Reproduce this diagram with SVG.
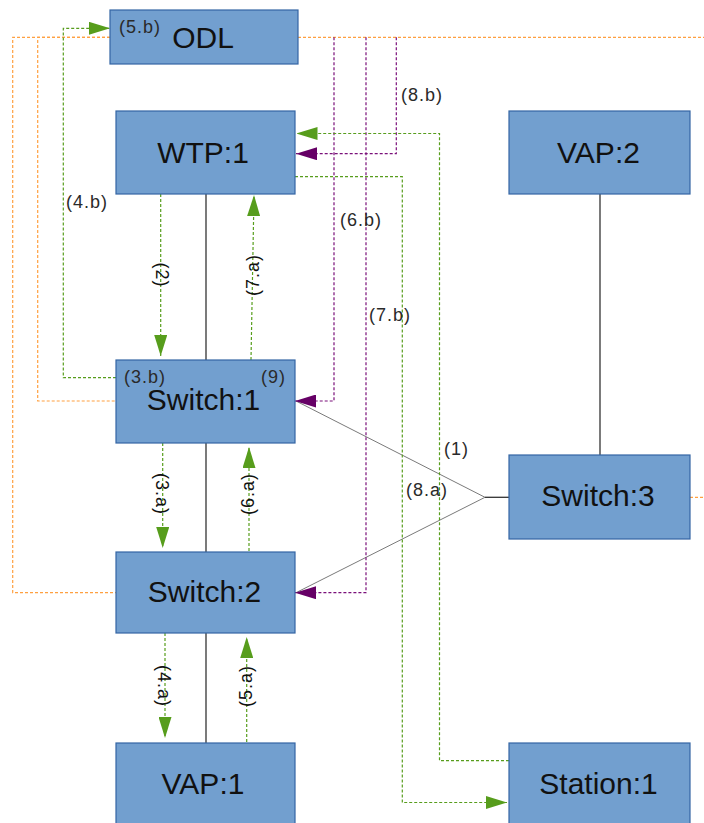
<svg xmlns="http://www.w3.org/2000/svg" width="704" height="823" viewBox="0 0 704 823">
  <defs>
    <style>
      .box { fill: #729fcf; stroke: #3465a4; stroke-width: 1.2; }
      .name { font-family: "Liberation Sans", Arial, sans-serif; font-size: 30px; fill: #111; text-anchor: middle; }
      .tag { font-family: "Liberation Sans", Arial, sans-serif; font-size: 18px; letter-spacing: 1px; fill: #2a2a2a; }
      .vtag { font-family: "Liberation Sans", Arial, sans-serif; font-size: 18px; letter-spacing: 1px; fill: #111; text-anchor: middle; }
      .link { fill: none; stroke: #333; stroke-width: 1.3; }
      .wire { fill: none; stroke: #7a7a7a; stroke-width: 1; }
      .green { fill: none; stroke: #579d1c; stroke-width: 1.2; stroke-dasharray: 3 2; }
      .purple { fill: none; stroke: #7a107a; stroke-width: 1.2; stroke-dasharray: 3 2; }
      .orange { fill: none; stroke: #ffa040; stroke-width: 1.2; stroke-dasharray: 3 2; }
    </style>
    <marker id="arrow-green" viewBox="0 0 21 13" refX="21" refY="6.5" markerWidth="21" markerHeight="13" markerUnits="userSpaceOnUse" orient="auto">
      <path d="M0,0 L21,6.5 L0,13 Z" fill="#579d1c"/>
    </marker>
    <marker id="arrow-purple" viewBox="0 0 21 13" refX="21" refY="6.5" markerWidth="21" markerHeight="13" markerUnits="userSpaceOnUse" orient="auto">
      <path d="M0,0 L21,6.5 L0,13 Z" fill="#660066"/>
    </marker>
  </defs>

  <rect width="704" height="823" fill="#ffffff"/>

  <g id="connectors">
    <!-- physical links -->
    <path class="link" d="M206 194 V360"/>
    <path class="link" d="M206 443 V552"/>
    <path class="link" d="M206 633 V743"/>
    <path class="link" d="M600 194 V455"/>
    <path class="link" d="M485 497.3 H509"/>
    <path class="wire" d="M296 401 L485 497.3 L296 592.7"/>

    <!-- control channel -->
    <path class="orange" d="M110 37.3 H37.7 V401 H116"/>
    <path class="orange" d="M110 37.3 H12.7 V592.7 H116"/>
    <path class="orange" d="M298 37.3 H704"/>
    <path class="orange" d="M690 497.3 H704"/>

    <!-- flow rule pushes -->
    <path class="purple" d="M396.3 37.3 V153.7 H296" marker-end="url(#arrow-purple)"/>
    <path class="purple" d="M334 37.3 V401 H295" marker-end="url(#arrow-purple)"/>
    <path class="purple" d="M366 37.3 V592.7 H295" marker-end="url(#arrow-purple)"/>

    <!-- packet path -->
    <path class="green" d="M116 377.7 H63.3 V28.3 H110" marker-end="url(#arrow-green)"/>
    <path class="green" d="M160.7 194 V356" marker-end="url(#arrow-green)"/>
    <path class="green" d="M251 360 L254 195" marker-end="url(#arrow-green)"/>
    <path class="green" d="M162.7 443 V548" marker-end="url(#arrow-green)"/>
    <path class="green" d="M249 551 V447" marker-end="url(#arrow-green)"/>
    <path class="green" d="M165 633 V738" marker-end="url(#arrow-green)"/>
    <path class="green" d="M246.7 742 V637" marker-end="url(#arrow-green)"/>
    <path class="green" d="M509 760.7 H439.5 V133.5 H296.5" marker-end="url(#arrow-green)"/>
    <path class="green" d="M295 176.7 H402.3 V802.5 H507" marker-end="url(#arrow-green)"/>

    <!-- step labels -->
    <text class="tag" x="401" y="101">(8.b)</text>
    <text class="tag" x="66" y="208">(4.b)</text>
    <text class="tag" x="340" y="226">(6.b)</text>
    <text class="tag" x="369" y="321">(7.b)</text>
    <text class="tag" x="444" y="455">(1)</text>
    <text class="tag" x="406" y="496">(8.a)</text>

    <text class="vtag" transform="translate(160.7 275) rotate(90)" y="5">(2)</text>
    <text class="vtag" transform="translate(254 275) rotate(-90)" y="5">(7.a)</text>
    <text class="vtag" transform="translate(161 494) rotate(90)" y="5">(3.a)</text>
    <text class="vtag" transform="translate(248.5 494) rotate(-90)" y="5">(6.a)</text>
    <text class="vtag" transform="translate(163 686) rotate(90)" y="5">(4.a)</text>
    <text class="vtag" transform="translate(246.7 686) rotate(-90)" y="5">(5.a)</text>
  </g>

  <g id="odl">
    <rect class="box" x="110" y="10" width="188" height="54"/>
    <text class="name" x="203" y="48">ODL</text>
    <text class="tag" x="119" y="33">(5.b)</text>
  </g>

  <g id="wtp1">
    <rect class="box" x="116" y="111" width="179" height="83"/>
    <text class="name" x="203" y="163">WTP:1</text>
  </g>

  <g id="vap2">
    <rect class="box" x="509" y="111" width="181" height="83"/>
    <text class="name" x="598.5" y="163">VAP:2</text>
  </g>

  <g id="switch1">
    <rect class="box" x="116" y="360" width="179" height="83"/>
    <text class="name" x="203.5" y="410">Switch:1</text>
    <text class="tag" x="124" y="383">(3.b)</text>
    <text class="tag" x="261" y="383">(9)</text>
  </g>

  <g id="switch2">
    <rect class="box" x="116" y="552" width="179" height="81"/>
    <text class="name" x="204.5" y="602">Switch:2</text>
  </g>

  <g id="switch3">
    <rect class="box" x="509" y="455" width="181" height="84"/>
    <text class="name" x="598" y="506">Switch:3</text>
  </g>

  <g id="vap1">
    <rect class="box" x="116" y="743" width="179" height="90"/>
    <text class="name" x="203" y="794">VAP:1</text>
  </g>

  <g id="station1">
    <rect class="box" x="509" y="743" width="181" height="90"/>
    <text class="name" x="598.5" y="794">Station:1</text>
  </g>
</svg>
